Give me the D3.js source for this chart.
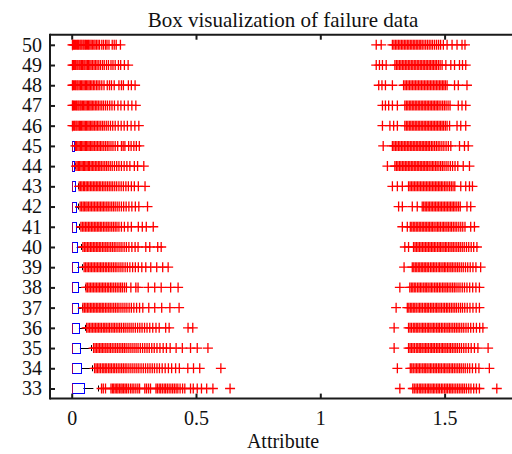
<!DOCTYPE html>
<html>
<head>
<meta charset="utf-8">
<script src="https://cdn.jsdelivr.net/npm/d3@7/dist/d3.min.js"></script>
<style>
  html, body { margin: 0; padding: 0; background: #fff; }
  svg { display: block; }
</style>
</head>
<body>
<svg id="chart" width="512" height="454"></svg>
<script>
// Attribute rows, bottom to top
const attributes = [33, 34, 35, 36, 37, 38, 39, 40, 41, 42, 43, 44, 45, 46, 47, 48, 49, 50];
// Box statistics per attribute (same order as attributes)
const q1Values     = [0, 0, 0, 0, 0, 0, 0, 0, 0, 0, 0, 0, 0, 0, 0, 0, 0, 0];
const medianValues = [0, 0, 0, 0, 0, 0, 0, 0, 0, 0, 0, 0, 0, 0, 0, 0, 0, 0];
const q3Values     = [0.047, 0.038, 0.033, 0.029, 0.025, 0.026, 0.023, 0.02, 0.018, 0.015, 0.014, 0.01, 0.009, 0, 0, 0, 0, 0];
const whiskerHigh  = [0.106, 0.08, 0.077, 0.053, 0.04, 0.052, 0.043, 0.038, 0.03, 0.026, 0.025, 0.013, 0.012, 0, 0, 0, 0, 0];
const xTicks = [0, 0.5, 1, 1.5];

// Outlying observations per attribute
const outliers33 = [0.12, 0.127, 0.136, 0.158, 0.164, 0.169, 0.175, 0.181, 0.186, 0.192, 0.198, 0.203, 0.209, 0.215, 0.221, 0.228, 0.236, 0.243, 0.25, 0.258, 0.266, 0.273, 0.294, 0.301, 0.309, 0.317, 0.339, 0.345, 0.352, 0.358, 0.365, 0.372, 0.378, 0.385, 0.392, 0.399, 0.406, 0.413, 0.42, 0.427, 0.436, 0.446, 0.455, 0.478, 0.489, 0.505, 0.522, 0.543, 0.568, 0.637,
  1.32, 1.372, 1.378, 1.385, 1.391, 1.398, 1.404, 1.41, 1.417, 1.423, 1.43, 1.436, 1.442, 1.449, 1.455, 1.461, 1.468, 1.474, 1.48, 1.487, 1.493, 1.5, 1.506, 1.512, 1.519, 1.525, 1.531, 1.538, 1.545, 1.552, 1.559, 1.566, 1.573, 1.58, 1.588, 1.597, 1.606, 1.617, 1.628, 1.64, 1.71];
const outliers34 = [0.092, 0.098, 0.104, 0.11, 0.116, 0.123, 0.129, 0.135, 0.141, 0.148, 0.154, 0.16, 0.167, 0.173, 0.18, 0.187, 0.194, 0.201, 0.208, 0.215, 0.222, 0.23, 0.238, 0.246, 0.254, 0.262, 0.27, 0.279, 0.288, 0.297, 0.306, 0.315, 0.324, 0.333, 0.343, 0.353, 0.364, 0.376, 0.389, 0.402, 0.418, 0.433, 0.467, 0.49, 0.515, 0.6,
  1.31, 1.362, 1.368, 1.374, 1.381, 1.387, 1.393, 1.399, 1.405, 1.412, 1.418, 1.424, 1.43, 1.437, 1.443, 1.449, 1.456, 1.462, 1.468, 1.475, 1.481, 1.487, 1.494, 1.5, 1.506, 1.513, 1.519, 1.526, 1.532, 1.539, 1.546, 1.553, 1.56, 1.567, 1.575, 1.583, 1.592, 1.601, 1.612, 1.625, 1.638, 1.68];
const outliers35 = [0.088, 0.094, 0.1, 0.106, 0.112, 0.118, 0.124, 0.13, 0.137, 0.143, 0.15, 0.156, 0.163, 0.17, 0.177, 0.184, 0.191, 0.198, 0.205, 0.212, 0.219, 0.227, 0.235, 0.243, 0.251, 0.259, 0.267, 0.276, 0.285, 0.294, 0.303, 0.312, 0.322, 0.332, 0.343, 0.355, 0.368, 0.381, 0.396, 0.42, 0.445, 0.478, 0.505, 0.548,
  1.297, 1.355, 1.361, 1.367, 1.373, 1.379, 1.386, 1.392, 1.398, 1.404, 1.41, 1.417, 1.423, 1.429, 1.435, 1.442, 1.448, 1.454, 1.46, 1.467, 1.473, 1.479, 1.486, 1.492, 1.498, 1.505, 1.511, 1.518, 1.524, 1.531, 1.538, 1.545, 1.552, 1.56, 1.568, 1.577, 1.586, 1.596, 1.607, 1.62, 1.634, 1.675];
const outliers36 = [0.06, 0.066, 0.072, 0.078, 0.084, 0.09, 0.096, 0.102, 0.108, 0.114, 0.12, 0.127, 0.133, 0.139, 0.146, 0.152, 0.159, 0.166, 0.172, 0.179, 0.186, 0.193, 0.2, 0.208, 0.215, 0.223, 0.231, 0.239, 0.247, 0.256, 0.265, 0.274, 0.283, 0.293, 0.303, 0.314, 0.326, 0.339, 0.352, 0.378, 0.392, 0.468, 0.487,
  1.297, 1.355, 1.361, 1.367, 1.374, 1.38, 1.386, 1.392, 1.398, 1.405, 1.411, 1.417, 1.423, 1.43, 1.436, 1.442, 1.449, 1.455, 1.461, 1.468, 1.474, 1.48, 1.487, 1.493, 1.5, 1.506, 1.513, 1.519, 1.526, 1.533, 1.54, 1.547, 1.554, 1.561, 1.569, 1.577, 1.586, 1.595, 1.605, 1.616, 1.628, 1.641, 1.654];
const outliers37 = [0.045, 0.051, 0.057, 0.063, 0.069, 0.075, 0.081, 0.087, 0.093, 0.099, 0.105, 0.111, 0.117, 0.123, 0.129, 0.136, 0.142, 0.149, 0.155, 0.162, 0.169, 0.176, 0.183, 0.19, 0.198, 0.206, 0.214, 0.222, 0.231, 0.24, 0.25, 0.261, 0.273, 0.286, 0.31, 0.334, 0.362, 0.395, 0.432,
  1.305, 1.35, 1.356, 1.362, 1.368, 1.374, 1.38, 1.386, 1.393, 1.399, 1.405, 1.411, 1.418, 1.424, 1.43, 1.436, 1.443, 1.449, 1.455, 1.462, 1.468, 1.474, 1.481, 1.487, 1.494, 1.5, 1.507, 1.513, 1.52, 1.527, 1.534, 1.541, 1.548, 1.556, 1.564, 1.572, 1.581, 1.591, 1.602, 1.614, 1.627, 1.64];
const outliers38 = [0.058, 0.064, 0.07, 0.076, 0.082, 0.088, 0.094, 0.1, 0.106, 0.112, 0.118, 0.124, 0.13, 0.136, 0.143, 0.149, 0.156, 0.162, 0.169, 0.176, 0.183, 0.19, 0.197, 0.204, 0.212, 0.22, 0.238, 0.258, 0.267, 0.308, 0.334, 0.36, 0.398, 0.428,
  1.32, 1.36, 1.366, 1.372, 1.378, 1.384, 1.391, 1.397, 1.403, 1.409, 1.416, 1.422, 1.428, 1.434, 1.441, 1.447, 1.453, 1.46, 1.466, 1.472, 1.479, 1.485, 1.492, 1.498, 1.505, 1.511, 1.518, 1.525, 1.532, 1.539, 1.546, 1.554, 1.562, 1.571, 1.58, 1.59, 1.601, 1.613, 1.626, 1.64];
const outliers39 = [0.05, 0.056, 0.062, 0.068, 0.074, 0.08, 0.086, 0.092, 0.098, 0.104, 0.11, 0.116, 0.122, 0.128, 0.135, 0.141, 0.148, 0.154, 0.161, 0.168, 0.175, 0.182, 0.19, 0.198, 0.206, 0.215, 0.224, 0.234, 0.245, 0.256, 0.268, 0.282, 0.298, 0.318, 0.342, 0.366, 0.388,
  1.337, 1.37, 1.376, 1.382, 1.388, 1.394, 1.4, 1.406, 1.412, 1.418, 1.424, 1.43, 1.436, 1.443, 1.449, 1.455, 1.461, 1.467, 1.474, 1.48, 1.486, 1.493, 1.499, 1.505, 1.512, 1.518, 1.525, 1.531, 1.538, 1.545, 1.552, 1.559, 1.567, 1.575, 1.584, 1.593, 1.603, 1.614, 1.626, 1.645];
const outliers40 = [0.045, 0.051, 0.057, 0.063, 0.069, 0.075, 0.081, 0.087, 0.093, 0.099, 0.105, 0.111, 0.117, 0.124, 0.13, 0.137, 0.143, 0.15, 0.157, 0.164, 0.171, 0.178, 0.186, 0.194, 0.202, 0.211, 0.22, 0.23, 0.242, 0.255, 0.267, 0.298, 0.314, 0.346, 0.36,
  1.34, 1.355, 1.375, 1.381, 1.387, 1.393, 1.399, 1.405, 1.411, 1.417, 1.423, 1.429, 1.435, 1.441, 1.447, 1.453, 1.459, 1.465, 1.472, 1.478, 1.484, 1.49, 1.497, 1.503, 1.509, 1.516, 1.522, 1.529, 1.535, 1.542, 1.549, 1.556, 1.563, 1.571, 1.579, 1.588, 1.597, 1.607, 1.617, 1.63];
const outliers41 = [0.037, 0.043, 0.049, 0.055, 0.061, 0.067, 0.073, 0.079, 0.085, 0.091, 0.097, 0.103, 0.109, 0.115, 0.121, 0.128, 0.134, 0.141, 0.147, 0.154, 0.161, 0.168, 0.175, 0.182, 0.19, 0.2, 0.212, 0.226, 0.24, 0.268, 0.284, 0.3, 0.328,
  1.33, 1.35, 1.362, 1.368, 1.374, 1.38, 1.386, 1.392, 1.398, 1.404, 1.41, 1.416, 1.422, 1.428, 1.434, 1.44, 1.446, 1.452, 1.458, 1.465, 1.471, 1.477, 1.483, 1.49, 1.496, 1.502, 1.509, 1.515, 1.522, 1.528, 1.535, 1.542, 1.549, 1.557, 1.565, 1.573, 1.582, 1.605, 1.62];
const outliers42 = [0.034, 0.04, 0.046, 0.051, 0.057, 0.062, 0.068, 0.074, 0.08, 0.086, 0.092, 0.098, 0.104, 0.11, 0.116, 0.122, 0.128, 0.134, 0.141, 0.147, 0.154, 0.161, 0.168, 0.175, 0.183, 0.191, 0.2, 0.209, 0.219, 0.23, 0.242, 0.256, 0.27, 0.305,
  1.315, 1.33, 1.37, 1.39, 1.41, 1.416, 1.422, 1.428, 1.434, 1.44, 1.446, 1.452, 1.458, 1.464, 1.47, 1.476, 1.482, 1.488, 1.494, 1.5, 1.506, 1.512, 1.518, 1.524, 1.53, 1.536, 1.542, 1.549, 1.556, 1.563, 1.59, 1.605];
const outliers43 = [0.03, 0.036, 0.041, 0.047, 0.052, 0.058, 0.063, 0.069, 0.075, 0.081, 0.087, 0.093, 0.099, 0.105, 0.111, 0.117, 0.124, 0.13, 0.137, 0.144, 0.151, 0.158, 0.165, 0.173, 0.181, 0.19, 0.199, 0.208, 0.218, 0.228, 0.24, 0.252, 0.268, 0.295,
  1.29, 1.31, 1.33, 1.355, 1.361, 1.367, 1.373, 1.379, 1.385, 1.391, 1.397, 1.403, 1.409, 1.415, 1.421, 1.427, 1.433, 1.439, 1.445, 1.451, 1.457, 1.463, 1.469, 1.475, 1.481, 1.487, 1.493, 1.5, 1.506, 1.513, 1.52, 1.527, 1.534, 1.541, 1.565, 1.585, 1.6, 1.612];
const outliers44 = [0.017, 0.022, 0.027, 0.032, 0.037, 0.042, 0.047, 0.052, 0.057, 0.062, 0.067, 0.072, 0.078, 0.083, 0.089, 0.095, 0.101, 0.107, 0.113, 0.119, 0.126, 0.133, 0.14, 0.147, 0.155, 0.163, 0.172, 0.181, 0.19, 0.2, 0.211, 0.222, 0.234, 0.252, 0.265, 0.29,
  1.27, 1.3, 1.306, 1.312, 1.318, 1.324, 1.33, 1.336, 1.342, 1.348, 1.354, 1.36, 1.366, 1.372, 1.378, 1.384, 1.39, 1.396, 1.402, 1.408, 1.414, 1.42, 1.426, 1.432, 1.438, 1.445, 1.451, 1.457, 1.464, 1.47, 1.477, 1.484, 1.491, 1.498, 1.506, 1.514, 1.523, 1.532, 1.542, 1.553, 1.575, 1.6];
const outliers45 = [0.015, 0.02, 0.025, 0.03, 0.035, 0.04, 0.045, 0.05, 0.055, 0.06, 0.065, 0.07, 0.075, 0.081, 0.086, 0.092, 0.098, 0.104, 0.11, 0.116, 0.122, 0.129, 0.136, 0.143, 0.15, 0.158, 0.166, 0.175, 0.185, 0.2, 0.207, 0.214, 0.229, 0.239, 0.25, 0.26, 0.272,
  1.253, 1.29, 1.296, 1.302, 1.308, 1.314, 1.32, 1.326, 1.332, 1.338, 1.344, 1.35, 1.356, 1.362, 1.368, 1.374, 1.38, 1.386, 1.392, 1.398, 1.404, 1.41, 1.416, 1.422, 1.428, 1.434, 1.44, 1.447, 1.453, 1.46, 1.467, 1.474, 1.481, 1.489, 1.497, 1.506, 1.515, 1.525, 1.56, 1.58, 1.595];
const outliers46 = [0.003, 0.008, 0.012, 0.017, 0.021, 0.026, 0.031, 0.035, 0.04, 0.045, 0.05, 0.055, 0.06, 0.065, 0.07, 0.075, 0.081, 0.086, 0.092, 0.098, 0.104, 0.11, 0.117, 0.124, 0.131, 0.139, 0.147, 0.156, 0.165, 0.175, 0.187, 0.199, 0.211, 0.224, 0.239, 0.254, 0.27,
  1.25, 1.28, 1.295, 1.31, 1.34, 1.346, 1.352, 1.358, 1.364, 1.37, 1.376, 1.382, 1.388, 1.394, 1.4, 1.406, 1.412, 1.418, 1.424, 1.43, 1.436, 1.442, 1.448, 1.454, 1.46, 1.466, 1.472, 1.478, 1.484, 1.49, 1.496, 1.503, 1.51, 1.52, 1.55, 1.565, 1.585];
const outliers47 = [0.003, 0.007, 0.011, 0.016, 0.02, 0.025, 0.029, 0.034, 0.038, 0.043, 0.048, 0.053, 0.058, 0.063, 0.068, 0.073, 0.078, 0.083, 0.089, 0.095, 0.101, 0.107, 0.114, 0.121, 0.128, 0.136, 0.144, 0.153, 0.162, 0.172, 0.186, 0.198, 0.212, 0.227, 0.242, 0.258,
  1.25, 1.262, 1.275, 1.29, 1.31, 1.34, 1.346, 1.352, 1.358, 1.364, 1.37, 1.376, 1.382, 1.388, 1.394, 1.4, 1.406, 1.412, 1.418, 1.424, 1.43, 1.436, 1.442, 1.448, 1.454, 1.46, 1.466, 1.472, 1.478, 1.485, 1.492, 1.499, 1.506, 1.514, 1.522, 1.555, 1.57, 1.585];
const outliers48 = [0.003, 0.007, 0.012, 0.016, 0.021, 0.025, 0.03, 0.035, 0.04, 0.045, 0.05, 0.055, 0.06, 0.065, 0.07, 0.075, 0.081, 0.087, 0.093, 0.1, 0.106, 0.113, 0.121, 0.13, 0.143, 0.152, 0.16, 0.171, 0.19, 0.2, 0.208, 0.228, 0.24, 0.255,
  1.235, 1.248, 1.262, 1.29, 1.335, 1.341, 1.347, 1.353, 1.359, 1.365, 1.371, 1.377, 1.383, 1.389, 1.395, 1.401, 1.407, 1.413, 1.419, 1.425, 1.431, 1.437, 1.443, 1.449, 1.455, 1.461, 1.467, 1.473, 1.479, 1.485, 1.491, 1.497, 1.503, 1.51, 1.54, 1.555, 1.59];
const outliers49 = [0.003, 0.007, 0.012, 0.016, 0.021, 0.025, 0.03, 0.034, 0.039, 0.044, 0.049, 0.053, 0.058, 0.063, 0.068, 0.073, 0.078, 0.084, 0.09, 0.096, 0.102, 0.109, 0.116, 0.124, 0.131, 0.14, 0.148, 0.158, 0.166, 0.175, 0.188, 0.197, 0.212, 0.227,
  1.225, 1.238, 1.25, 1.265, 1.3, 1.306, 1.312, 1.318, 1.324, 1.33, 1.336, 1.342, 1.348, 1.354, 1.36, 1.366, 1.372, 1.378, 1.384, 1.39, 1.396, 1.402, 1.408, 1.414, 1.42, 1.426, 1.432, 1.438, 1.444, 1.45, 1.456, 1.462, 1.468, 1.475, 1.482, 1.49, 1.505, 1.525, 1.54, 1.56, 1.572, 1.585];
const outliers50 = [0.003, 0.007, 0.011, 0.015, 0.02, 0.024, 0.028, 0.033, 0.037, 0.041, 0.046, 0.05, 0.055, 0.059, 0.064, 0.068, 0.073, 0.078, 0.083, 0.089, 0.094, 0.1, 0.106, 0.112, 0.121, 0.128, 0.136, 0.142, 0.15, 0.163, 0.171, 0.179, 0.196,
  1.225, 1.245, 1.29, 1.296, 1.302, 1.308, 1.314, 1.32, 1.326, 1.332, 1.338, 1.344, 1.35, 1.356, 1.362, 1.368, 1.374, 1.38, 1.386, 1.392, 1.398, 1.404, 1.41, 1.417, 1.424, 1.431, 1.438, 1.445, 1.452, 1.46, 1.468, 1.476, 1.484, 1.495, 1.51, 1.53, 1.55, 1.57, 1.582];

const outlierLists = [outliers33, outliers34, outliers35, outliers36, outliers37, outliers38, outliers39, outliers40, outliers41,
  outliers42, outliers43, outliers44, outliers45, outliers46, outliers47, outliers48, outliers49, outliers50];

const rows = attributes.map((a, i) => ({
  attr: a, q1: q1Values[i], med: medianValues[i], q3: q3Values[i],
  hi: whiskerHigh[i], out: outlierLists[i]
}));

// Layout
const W = 512, H = 454;
const plot = { left: 50, right: 516, top: 34.7, bottom: 398.6 };
const serif = '"Liberation Serif", "Times New Roman", Times, serif';

const x = d3.scaleLinear().domain([0, 1.5]).range([71.7, 444.6]);
const y = d3.scaleLinear().domain([32.5, 50.5]).range([plot.bottom, plot.top]);

const svg = d3.select("#chart");
svg.append("rect").attr("width", W).attr("height", H).attr("fill", "#fff");

const axisColor = "#1a1a1a";
const fontSize = 20;

// Bottom axis with inward ticks
const gx = svg.append("g").attr("transform", `translate(0,${plot.bottom})`)
  .call(d3.axisBottom(x).tickValues(xTicks).tickFormat(d3.format("")).tickSize(-5).tickSizeOuter(0).tickPadding(12));
// Top axis (ticks only)
const gxt = svg.append("g").attr("transform", `translate(0,${plot.top})`)
  .call(d3.axisTop(x).tickValues(xTicks).tickFormat("").tickSize(-5).tickSizeOuter(0));
// Left axis with inward ticks
const gy = svg.append("g").attr("transform", `translate(${plot.left},0)`)
  .call(d3.axisLeft(y).tickValues(attributes).tickFormat(d3.format("d")).tickSize(-5).tickSizeOuter(0).tickPadding(8));

[gx, gxt, gy].forEach(g => {
  g.attr("font-family", null).attr("font-size", null);
  g.select(".domain").remove();
  g.selectAll(".tick line").attr("stroke", axisColor).attr("stroke-width", 2);
  g.selectAll(".tick text").attr("fill", "#111")
    .style("font-size", fontSize + "px").style("font-family", serif);
});

// Frame lines
const frame = svg.append("g").attr("stroke", axisColor).attr("stroke-width", 2).attr("fill", "none");
frame.append("line").attr("x1", plot.left).attr("x2", plot.right).attr("y1", plot.top).attr("y2", plot.top);
frame.append("line").attr("x1", plot.left).attr("x2", plot.right).attr("y1", plot.bottom).attr("y2", plot.bottom);
frame.append("line").attr("x1", plot.left).attr("x2", plot.left).attr("y1", plot.top - 1).attr("y2", plot.bottom + 1);
frame.append("line").attr("x1", plot.right).attr("x2", plot.right).attr("y1", plot.top - 1).attr("y2", plot.bottom + 1);

// Boxes, whiskers and medians
const boxH = 5, capH = 3, mark = 5;
const snap = v => Math.round(v) + 0.5;
const g = svg.append("g");
const rowG = g.selectAll("g.row").data(rows).join("g").attr("class", "row");

// upper whisker (dashed) with adjacent-value cap
rowG.filter(d => d.hi > d.q3).append("line")
  .attr("x1", d => x(d.q3)).attr("x2", d => x(d.hi))
  .attr("y1", d => snap(y(d.attr))).attr("y2", d => snap(y(d.attr)))
  .attr("stroke", "#000").attr("stroke-width", 1).attr("stroke-dasharray", "10,5");
rowG.filter(d => d.hi > d.q3).append("line")
  .attr("x1", d => snap(x(d.hi))).attr("x2", d => snap(x(d.hi)))
  .attr("y1", d => y(d.attr) - capH).attr("y2", d => y(d.attr) + capH)
  .attr("stroke", "#000").attr("stroke-width", 1);

rowG.append("rect")
  .attr("x", d => snap(x(d.q1)))
  .attr("width", d => Math.max(0, Math.round(x(d.q3) - x(d.q1))))
  .attr("y", d => snap(y(d.attr) - boxH)).attr("height", boxH * 2)
  .attr("fill", "none").attr("stroke", "#0000ff").attr("stroke-width", 1);

rowG.append("line")
  .attr("x1", d => snap(x(d.med))).attr("x2", d => snap(x(d.med)))
  .attr("y1", d => snap(y(d.attr) - boxH)).attr("y2", d => snap(y(d.attr) + boxH))
  .attr("stroke", "#ff0000").attr("stroke-width", 1).attr("stroke-opacity", 0.6);

// Outliers as '+' markers
rowG.each(function(d) {
  const cy = y(d.attr);
  d3.select(this).selectAll("path.out").data(d.out).join("path").attr("class", "out")
    .attr("d", v => {
      const cx = x(v);
      return `M${cx - mark},${cy}H${cx + mark}M${cx},${cy - mark}V${cy + mark}`;
    })
    .attr("fill", "none").attr("stroke", "#ff0000").attr("stroke-width", 1.3);
});

// Title and axis label
svg.append("text").attr("x", (plot.left + plot.right) / 2).attr("y", 27)
  .attr("text-anchor", "middle").attr("fill", "#111")
  .style("font-size", "21px").style("font-family", serif)
  .text("Box visualization of failure data");
svg.append("text").attr("x", (plot.left + plot.right) / 2).attr("y", 448)
  .attr("text-anchor", "middle").attr("fill", "#111")
  .style("font-size", fontSize + "px").style("font-family", serif)
  .text("Attribute");
</script>
</body>
</html>
